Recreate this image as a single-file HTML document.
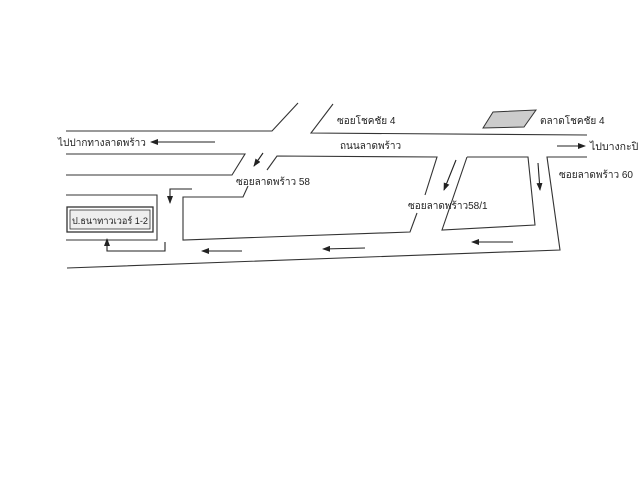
<!DOCTYPE html>
<html><head><meta charset="utf-8"><style>
html,body{margin:0;padding:0;background:#fff;}
svg{display:block}
text{font-family:"Liberation Sans","Noto Sans CJK SC",sans-serif;font-size:10px;fill:#222}
</style></head><body>
<svg width="640" height="480" viewBox="0 0 640 480" xmlns="http://www.w3.org/2000/svg">
<defs><marker id="a" markerWidth="8" markerHeight="6" refX="7" refY="3" orient="auto" markerUnits="userSpaceOnUse"><path d="M0,0 L8,3 L0,6 z" fill="#222"/></marker></defs>
<g fill="none" stroke="#333" stroke-width="1.1">
<polyline points="66,131 272,131 298,103"/>
<polyline points="333,104 311,133 587,135"/>
<polyline points="66,154 245,154 232,175 66,175"/>
<polyline points="267,170 277,156 437,157 425,195"/>
<polyline points="417,213 410,232 183,240 183,197 243,197 248,186"/>
<polyline points="467,157 442,230 535,225 528,157 467,157"/>
<polyline points="587,157 547,157 560,250 67,268"/>
<polyline points="66,195 157,195 157,240 66,240"/>
<rect x="67" y="207" width="86" height="25" stroke-width="1.3"/>
<rect x="70" y="210" width="80" height="19" fill="#eee" stroke-width="0.8"/>
</g>
<polygon points="483,128 493,112 536,110 524,127" fill="#ccc" stroke="#333" stroke-width="1"/>
<g stroke="#222" stroke-width="1.1" fill="none" marker-end="url(#a)">
<line x1="215" y1="142" x2="151" y2="142"/>
<line x1="263" y1="153" x2="254" y2="166"/>
<polyline points="192,189 170,189 170,203"/>
<polyline points="165,242 165,251 107,251 107,239"/>
<line x1="242" y1="251" x2="202" y2="251"/>
<line x1="365" y1="248" x2="323" y2="249"/>
<line x1="513" y1="242" x2="472" y2="242"/>
<line x1="557" y1="146" x2="585" y2="146"/>
<line x1="456" y1="160" x2="444" y2="190"/>
<line x1="538" y1="163" x2="540" y2="190"/>
</g>
<text x="58" y="146">ไปปากทางลาดพร้าว</text>
<text x="337" y="124">ซอยโชคชัย 4</text>
<text x="540" y="124">ตลาดโชคชัย 4</text>
<text x="340" y="149">ถนนลาดพร้าว</text>
<text x="590" y="150" style="font-size:10.5px">ไปบางกะปิ</text>
<text x="559" y="178">ซอยลาดพร้าว 60</text>
<text x="408" y="209">ซอยลาดพร้าว58/1</text>
<text x="236" y="185">ซอยลาดพร้าว 58</text>
<text x="72" y="224" style="font-size:9.5px" textLength="76" lengthAdjust="spacingAndGlyphs">ป.ธนาทาวเวอร์ 1-2</text>
</svg>
</body></html>
